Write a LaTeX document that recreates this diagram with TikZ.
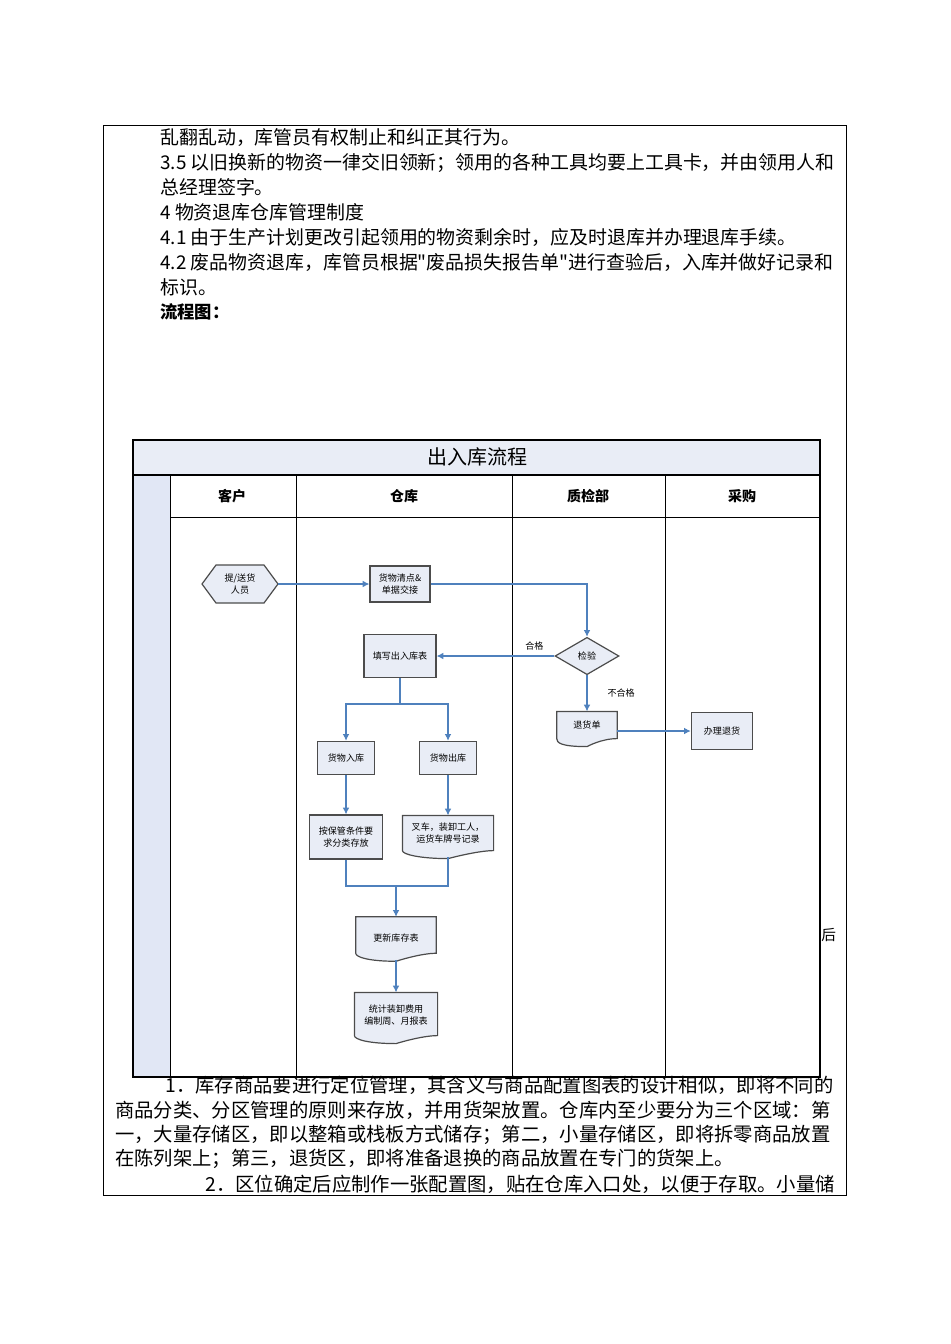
\documentclass[tikz,border=0pt]{standalone}
\usepackage{fontspec}
\setmainfont{Liberation Serif}
\newfontfamily\cjk{Noto Sans CJK SC}
\usetikzlibrary{shapes.geometric,arrows.meta}
\definecolor{flow}{RGB}{79,129,189}
\definecolor{boxfill}{RGB}{233,237,246}
\definecolor{stripe}{RGB}{225,231,245}
\tikzset{
 x=0.75pt,y=-0.75pt,
 line/.style={anchor=west,inner sep=0,font=\cjk\fontsize{14.2}{16}\selectfont},
 bline/.style={anchor=west,inner sep=0,font=\cjk\fontsize{14.5}{16}\selectfont},
 box/.style={draw=black!70,fill=boxfill,line width=0.9pt,font=\cjk\fontsize{6.8}{9}\selectfont,align=center,inner sep=1pt},
 docnode/.style={font=\cjk\fontsize{6.8}{9}\selectfont,align=center,inner sep=1pt},
 flowarrow/.style={draw=flow,line width=0.8pt,-{Latex[length=5pt,width=5pt]}},
 flowline/.style={draw=flow,line width=0.8pt},
 hdr/.style={font=\cjk\bfseries\fontsize{10.5}{12}\selectfont},
 lbl/.style={font=\cjk\fontsize{6.8}{9}\selectfont,inner sep=1pt}
}
\newcommand{\docpath}[1]{%
 \draw[draw=black!70,fill=boxfill,line width=0.9pt] (#1.north west) -- (#1.north east) -- (#1.south east)
 .. controls ([xshift=-12pt]#1.south east) and ([yshift=-6pt]#1.south) .. ([yshift=-6pt]#1.south)
 .. controls ([yshift=-6pt,xshift=-20pt]#1.south) and ([yshift=-3pt]#1.south west) .. (#1.south west) -- cycle;}
\begin{document}
\begin{tikzpicture}
\useasboundingbox (0,0) rectangle (950,1344);
\draw[line width=0.6pt] (103,125) rectangle (846,1195);
% top text
\node[line] (t1) at (160,138) {乱翻乱动，库管员有权制止和纠正其行为。};
\node[line] (t2) at (160,163) {3.5 以旧换新的物资一律交旧领新；领用的各种工具均要上工具卡，并由领用人和};
\node[line] (t3) at (160,187) {总经理签字。};
\node[line] (t4) at (160,212) {4 物资退库仓库管理制度};
\node[line] (t5) at (160,237) {4.1 由于生产计划更改引起领用的物资剩余时，应及时退库并办理退库手续。};
\node[line] (t6) at (160,262) {4.2 废品物资退库，库管员根据"废品损失报告单"进行查验后，入库并做好记录和};
\node[line] (t7) at (160,287) {标识。};
\node[line,font=\cjk\bfseries\fontsize{13}{16}\selectfont] (t8) at (160,312) {流程图：};
% flowchart frame
\fill[stripe] (133,475) rectangle (170,1077);
\fill[boxfill] (133,440) rectangle (820,475);
\draw[line width=0.9pt] (133,440) rectangle (820,1077);
\draw[line width=0.9pt] (133,475) -- (820,475);
\draw[line width=0.6pt] (170,517) -- (820,517);
\foreach \xx in {170,296,512,665} \draw[line width=0.6pt] (\xx,475) -- (\xx,1077);
\node[font=\cjk\fontsize{15}{17}\selectfont] (title) at (477,457) {出入库流程};
\node[hdr] (h1) at (232,496) {客户};
\node[hdr] (h2) at (404,496) {仓库};
\node[hdr] (h3) at (588,496) {质检部};
\node[hdr] (h4) at (742,496) {采购};
% nodes
\draw[draw=black!70,fill=boxfill,line width=0.9pt] (202,584) -- (216,565) -- (264,565) -- (278,584) -- (264,603) -- (216,603) -- cycle;
\node[lbl,align=center] (p) at (240,584) {提/送货\\人员};
\coordinate (pe) at (278,584);
\node[box,minimum width=45pt,minimum height=27pt] (qd) at (400,584) {货物清点\&\\单据交接};
\node[box,shape=diamond,aspect=1.7,minimum width=48pt,minimum height=28pt,inner sep=0pt] (jy) at (587,656) {检验};
\node[box,minimum width=54pt,minimum height=32pt] (tx) at (400,656) {填写出入库表};
\node[docnode,minimum width=45pt,minimum height=20pt] (th) at (587,725) {};
\docpath{th}
\node[lbl] at (th) {退货单};
\node[box,minimum width=46pt,minimum height=28pt] (bl) at (722,731) {办理退货};
\node[box,minimum width=43pt,minimum height=25pt] (rk) at (346,758) {货物入库};
\node[box,minimum width=43pt,minimum height=25pt] (ck) at (448,758) {货物出库};
\node[box,minimum width=55pt,minimum height=33pt] (fl) at (346,837) {按保管条件要\\求分类存放};
\node[docnode,minimum width=68pt,minimum height=26pt] (cc) at (448,833) {};
\docpath{cc}
\node[lbl,align=center] at (cc) {叉车，装卸工人，\\运货车牌号记录};
\node[docnode,minimum width=60pt,minimum height=27pt] (gx) at (396,935) {};
\docpath{gx}
\node[lbl] at ([yshift=-2pt]gx) {更新库存表};
\node[docnode,minimum width=62pt,minimum height=32pt] (tj) at (396,1014) {};
\docpath{tj}
\node[lbl,align=center] at ([yshift=-1pt]tj) {统计装卸费用\\编制周、月报表};
% connectors
\draw[flowarrow] (pe) -- (qd.west);
\draw[flowarrow] (qd.east) -| (jy.north);
\draw[flowarrow] (jy.west) -- node[lbl,above=3pt,pos=0.17]{合格} (tx.east);
\draw[flowarrow] (jy.south) -- node[lbl,right,xshift=14pt]{不合格} (th.north);
\draw[flowarrow] (bl.west -| th.east) -- (bl.west);
\coordinate (sp) at (400,704);
\draw[flowline] (tx.south) -- (sp);
\draw[flowarrow] (sp) -| (rk.north);
\draw[flowarrow] (sp) -| (ck.north);
\draw[flowarrow] (rk.south) -- (fl.north);
\draw[flowarrow] (ck.south) -- (cc.north);
\coordinate (mg) at (396,886);
\draw[flowline] (fl.south) |- (mg);
\draw[flowline] ([yshift=-5pt]cc.south) |- (mg);
\draw[flowarrow] (mg) -- (gx.north);
\draw[flowarrow] ([yshift=-5pt]gx.south) -- (tj.north);
\node[line,font=\cjk\fontsize{11}{12}\selectfont] (hou) at (821,935) {后};
% bottom text
\node[bline] (b1) at (165,1085) {1．库存商品要进行定位管理，其含义与商品配置图表的设计相似，即将不同的};
\node[bline] (b2) at (115,1110) {商品分类、分区管理的原则来存放，并用货架放置。仓库内至少要分为三个区域：第};
\node[bline] (b3) at (115,1135) {一，大量存储区，即以整箱或栈板方式储存；第二，小量存储区，即将拆零商品放置};
\node[bline] (b4) at (115,1159) {在陈列架上；第三，退货区，即将准备退换的商品放置在专门的货架上。};
\node[bline] (b5) at (205,1184) {2．区位确定后应制作一张配置图，贴在仓库入口处，以便于存取。小量储};
\end{tikzpicture}
\end{document}
